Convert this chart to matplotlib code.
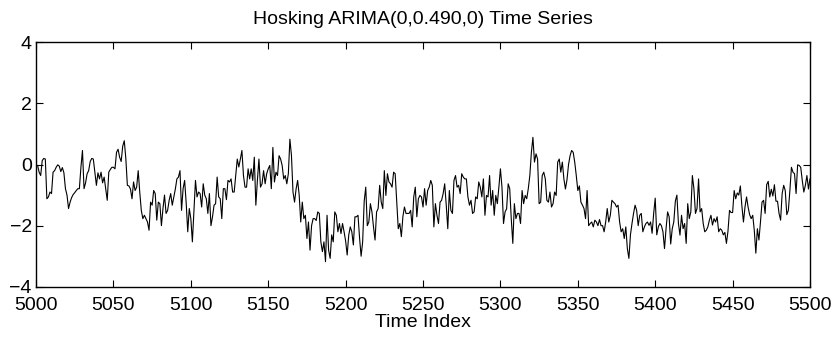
import numpy as np
import matplotlib
matplotlib.use("Agg")
import matplotlib.pyplot as plt

plt.rcParams["font.family"] = ["Liberation Sans", "DejaVu Sans"]

T0 = 5000
ts_values = [
    -0.03, -0.03, -0.25, -0.36, 0.13, 0.2, 0.18, -1.12, -1.06, -0.9,
    -0.95, -0.25, -0.2, -0.09, -0.01, -0.05, -0.23, -0.1, -0.27, -0.79,
    -1.0, -1.44, -1.23, -1.08, -0.98, -0.92, -0.85, -0.79, -0.79, -0.09,
    0.46, -0.79, -0.6, -0.3, -0.2, 0.1, 0.2, 0.18, -0.25, -0.68,
    -0.27, -0.47, -0.25, -0.6, -0.41, -0.79, -1.17, -0.25, -0.16, -0.09,
    -0.09, -0.14, 0.4, 0.5, 0.24, 0.1, 0.6, 0.78, 0.2, -0.68,
    -0.7, -0.8, -1.12, -0.57, -0.85, -0.74, -0.2, -0.9, -1.5, -1.77,
    -1.66, -1.77, -1.88, -2.15, -1.23, -1.33, -0.85, -0.95, -1.82, -1.23,
    -1.28, -2.0, -1.44, -1.0, -1.6, -1.5, -1.17, -0.95, -1.33, -1.06,
    -0.8, -0.47, -0.41, -0.2, -1.5, -0.79, -0.52, -1.26, -2.2, -1.44,
    -1.77, -2.53, -1.55, -0.52, -1.06, -0.9, -0.95, -1.39, -0.63, -1.0,
    -1.12, -1.6, -0.95, -2.0, -1.71, -1.33, -1.28, -0.41, -1.06, -1.12,
    -1.77, -0.79, -0.79, -1.15, -0.52, -0.57, -0.47, -0.9, -0.9, -0.36,
    0.18, -0.08, 0.18, 0.46, -0.36, -0.74, -0.74, -0.14, -0.47, -0.14,
    -0.52, 0.24, -1.33, -0.52, 0.18, -0.74, -0.63, -0.2, -0.63, -0.3,
    -0.14, -0.03, -0.79, 0.56, -0.57, -0.25, -0.36, 0.29, 0.18, -0.03,
    -0.47, -0.36, -0.63, -0.3, 0.83, 0.3, -0.9, -1.23, -0.8, -0.52,
    -1.0, -1.88, -1.23, -1.77, -1.66, -2.42, -1.88, -2.8, -2.0, -1.77,
    -1.77, -1.83, -1.55, -1.6, -2.53, -2.85, -2.53, -3.18, -1.66, -2.8,
    -3.07, -2.3, -2.53, -1.55, -1.66, -2.2, -1.93, -2.26, -1.93, -2.2,
    -2.5, -2.96, -2.31, -2.04, -2.2, -2.63, -1.71, -1.71, -1.66, -2.4,
    -3.0, -2.53, -1.2, -0.74, -2.0, -1.88, -1.28, -1.55, -2.04, -2.47,
    -1.55, -1.44, -0.68, -1.23, -1.44, -0.2, -1.01, -0.3, -0.57, -0.63,
    -0.74, -0.25, -0.3, -1.2, -2.1, -1.93, -2.36, -1.7, -1.39, -1.6,
    -1.6, -1.6, -1.5, -2.04, -1.06, -0.74, -1.71, -1.12, -1.01, -1.06,
    -1.39, -0.79, -1.33, -0.85, -0.74, -0.52, -0.68, -2.04, -1.28, -1.66,
    -1.93, -1.23, -1.17, -0.95, -0.63, -1.33, -2.1, -0.85, -1.5, -1.6,
    -0.52, -0.36, -0.74, -0.68, -0.95, -0.3, -0.41, -0.47, -0.47, -1.06,
    -1.33, -1.17, -1.6, -1.55, -1.06, -1.12, -0.57, -0.74, -1.06, -0.47,
    -1.66, -1.01, -1.06, -0.36, -1.33, -0.85, -1.66, -1.01, -1.28, -0.74,
    -0.14, -0.74, -1.93, -1.55, -1.45, -0.63, -0.79, -1.77, -2.58, -1.28,
    -1.77, -1.6, -1.6, -1.93, -0.85, -1.28, -1.01, -1.12, -0.79, -0.36,
    0.4, 0.89, 0.08, 0.35, 0.18, -1.28, -1.23, -0.36, -0.25, -0.47,
    -1.17, -1.23, -0.9, -1.39, -1.28, -0.9, -1.01, 0.08, 0.18, -0.25,
    0.08, -0.47, -0.8, -0.5, 0.0, 0.29, 0.46, 0.4, 0.08, -0.36,
    -0.85, -0.7, -1.23, -1.33, -1.44, -1.77, -0.85, -2.0, -1.93, -1.88,
    -2.04, -1.82, -1.88, -2.0, -1.8, -2.0, -2.0, -2.2, -1.88, -1.44,
    -1.88, -1.66, -1.17, -1.23, -1.28, -1.39, -1.33, -1.88, -2.2, -2.1,
    -2.42, -2.04, -2.75, -3.07, -2.3, -1.93, -1.6, -1.33, -1.5, -2.0,
    -1.66, -1.6, -2.2, -2.04, -1.93, -1.88, -1.99, -1.88, -2.25, -1.6,
    -1.1, -2.3, -2.04, -1.93, -2.0, -2.2, -2.75, -2.1, -1.55, -1.71,
    -2.6, -2.1, -1.88, -1.2, -1.0, -1.93, -2.31, -1.66, -2.1, -1.93,
    -2.58, -1.28, -1.77, -1.55, -0.36, -0.79, -1.6, -1.44, -0.47, -1.55,
    -1.44, -1.93, -2.2, -2.15, -2.04, -1.82, -1.66, -1.98, -1.77, -1.88,
    -1.71, -2.2, -2.1, -2.15, -2.3, -2.22, -2.58, -2.18, -1.5, -1.57,
    -1.57, -0.85, -1.12, -0.93, -1.0, -0.7, -1.36, -1.88, -1.39, -1.06,
    -1.39, -1.64, -1.77, -1.66, -2.15, -2.9, -2.1, -2.47, -1.88, -1.23,
    -1.17, -1.6, -0.66, -0.55, -1.06, -0.81, -1.03, -0.66, -1.2, -1.2,
    -1.6, -1.82, -0.95, -0.68, -0.85, -1.64, -1.5, -0.85, -0.09, -0.25,
    -0.3, -0.95, -0.01, -0.03, -0.09, -0.52, -0.9, -0.68, -0.36, -0.8,
    -0.47,
]
x_ticks = [5000, 5050, 5100, 5150, 5200, 5250, 5300, 5350, 5400, 5450, 5500]
y_ticks = [-4, -2, 0, 2, 4]

t = np.arange(T0, T0 + len(ts_values))

fig = plt.figure(figsize=(8.38, 3.37), dpi=100)
ax = fig.add_axes([0.043, 0.149, 0.9236, 0.7255])
ax.plot(t, ts_values, color="k", linewidth=0.8)

ax.set_xlim(5000, 5500)
ax.set_ylim(-4, 4)
ax.set_xticks(x_ticks)
ax.set_yticks(y_ticks)
ax.tick_params(direction="in", length=5, width=0.8, top=True, right=True,
               labelsize=14)
ax.tick_params(axis="x", pad=7)
ax.tick_params(axis="y", pad=3)
for s in ax.spines.values():
    s.set_linewidth(1.0)

ax.set_xlabel("Time Index", fontsize=14, labelpad=0)
ax.set_title("Hosking ARIMA(0,0.490,0) Time Series", fontsize=14, pad=13)

fig.savefig("out.png", dpi=100)
